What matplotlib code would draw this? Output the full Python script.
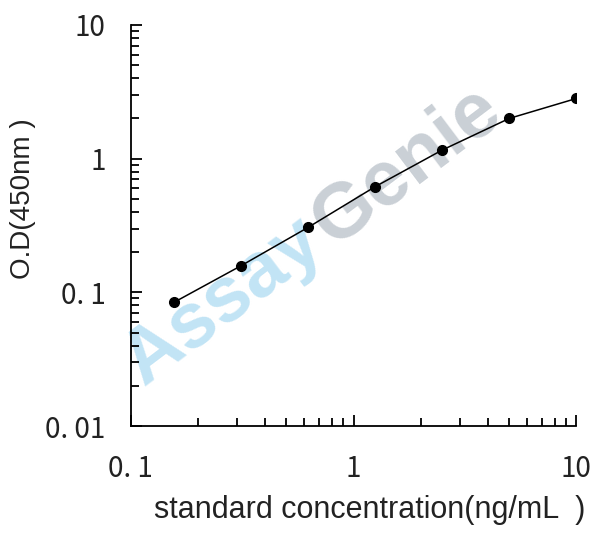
import matplotlib
matplotlib.use("Agg")
import matplotlib.pyplot as plt
from matplotlib.ticker import FixedLocator, LogLocator, NullFormatter

# standard curve data
concentration = [0.156, 0.3125, 0.625, 1.25, 2.5, 5, 10]
od_450 = [0.084, 0.158, 0.306, 0.617, 1.16, 2.00, 2.82]

x_ticks = [0.1, 1, 10]
x_tick_labels = ["0. 1", "1", "10"]
y_ticks = [0.01, 0.1, 1, 10]
y_tick_labels = ["0. 01", "0. 1", "1", "10"]

tick_font = ["Noto Sans CJK JP", "DejaVu Sans"]
label_font = ["Liberation Sans", "DejaVu Sans"]

fig = plt.figure(figsize=(6.08, 5.36), dpi=100)
ax = fig.add_axes([0.215, 0.2052, 0.733, 0.7482])
ax.set_zorder(2)
ax.patch.set_alpha(0)

# watermark, behind the axes
fig.text(223 / 608, 1 - 302 / 536, "Assay", fontsize=56, fontweight="bold", color="#c2e4f5",
         rotation=37, ha="center", va="center", family=label_font, zorder=1)
fig.text(407 / 608, 1 - 166 / 536, "Genie", fontsize=56, fontweight="bold", color="#cad0d6",
         rotation=37, ha="center", va="center", family=label_font, zorder=1)

ax.plot(concentration, od_450, color="black", linewidth=1.1, marker="o",
        markersize=7, markerfacecolor="black", zorder=3)

ax.set_xscale("log")
ax.set_yscale("log")
ax.set_xlim(0.1, 10)
ax.set_ylim(0.01, 10)

ax.spines["top"].set_visible(False)
ax.spines["right"].set_visible(False)
ax.spines["left"].set_linewidth(1.3)
ax.spines["bottom"].set_linewidth(1.3)

ax.xaxis.set_major_locator(FixedLocator(x_ticks))
ax.yaxis.set_major_locator(FixedLocator(y_ticks))
ax.xaxis.set_minor_locator(LogLocator(base=10, subs=range(2, 10)))
ax.yaxis.set_minor_locator(LogLocator(base=10, subs=range(2, 10)))
ax.xaxis.set_minor_formatter(NullFormatter())
ax.yaxis.set_minor_formatter(NullFormatter())
ax.set_xticklabels(x_tick_labels, family=tick_font, fontsize=20, color="#222222")
ax.set_yticklabels(y_tick_labels, family=tick_font, fontsize=20, color="#222222")

ax.tick_params(which="major", direction="in", length=8, width=1.3)
ax.tick_params(which="minor", direction="in", length=6, width=1.3)
ax.tick_params(axis="x", which="major", pad=20)
ax.tick_params(axis="y", which="major", pad=18)

ax.set_xlabel("standard concentration(ng/mL  )", family=label_font, fontsize=22,
              color="#222222")
ax.set_ylabel("O.D(450nm )", family=label_font, fontsize=20, color="#222222")
ax.yaxis.set_label_coords(-0.212, 0.566)
ax.xaxis.set_label_coords(0.536, -0.172)

fig.savefig("out.png", dpi=100)
